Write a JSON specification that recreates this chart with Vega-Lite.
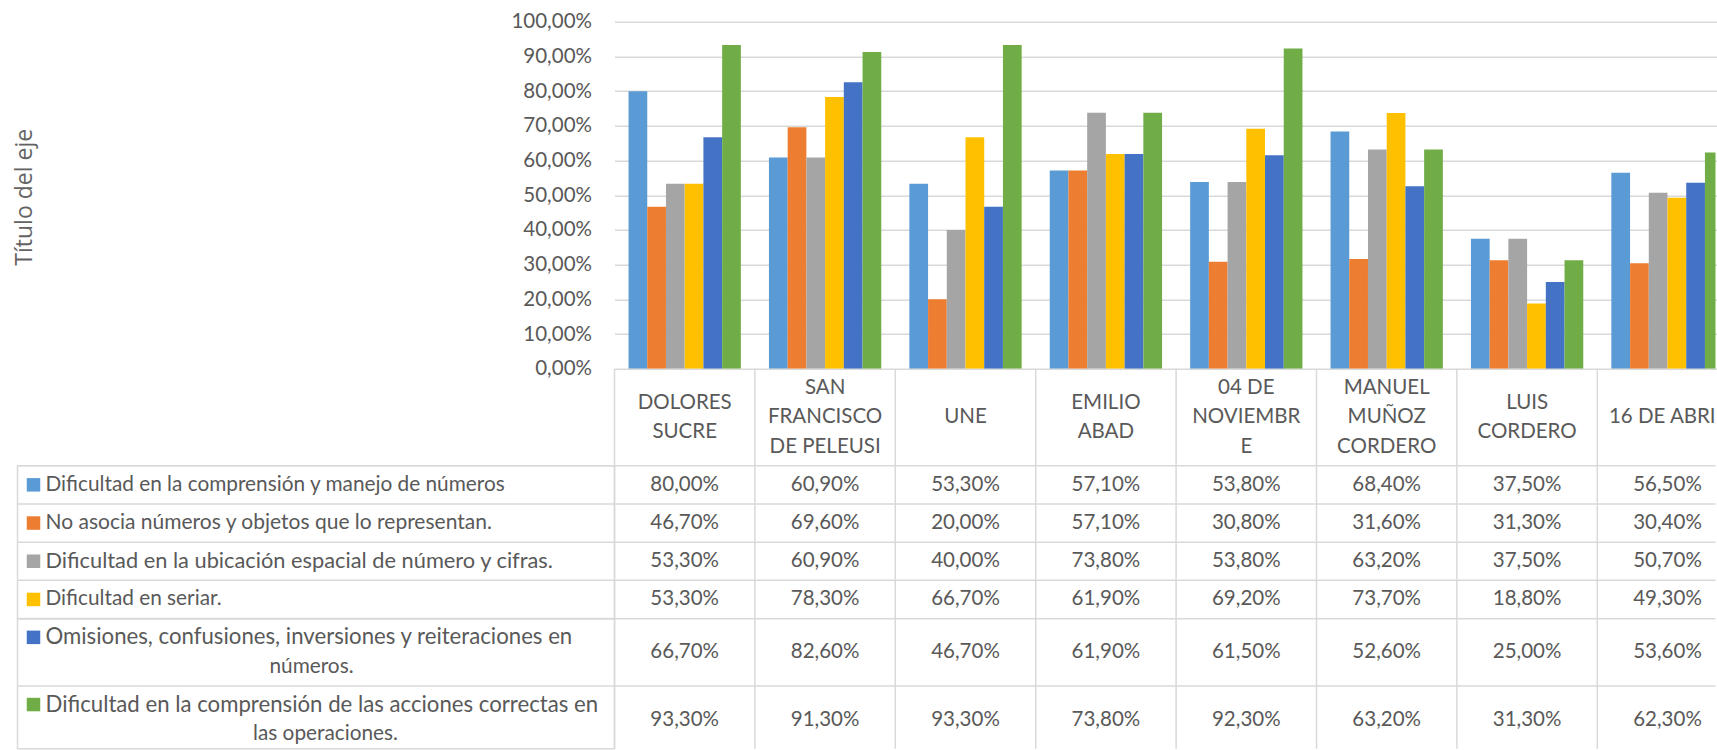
{
  "$schema": "https://vega.github.io/schema/vega-lite/v6.json",
  "padding": {"left": 13.5, "top": 11.75, "right": 0, "bottom": 0},
  "config": {
    "font": "Lato",
    "view": {"stroke": null},
    "locale": {"number": {"decimal": ",", "thousands": ".", "grouping": [3], "currency": ["", " €"]}},
    "text": {"fontSize": 20.5, "color": "#595959", "baseline": "middle"},
    "rule": {"color": "#d9d9d9", "strokeWidth": 1.5}
  },
  "datasets": {
    "cats": [
      {"c": "DOLORES SUCRE", "h": ["DOLORES", "SUCRE"]},
      {"c": "SAN FRANCISCO DE PELEUSI", "h": ["SAN", "FRANCISCO", "DE PELEUSI"]},
      {"c": "UNE", "h": ["UNE"]},
      {"c": "EMILIO ABAD", "h": ["EMILIO", "ABAD"]},
      {"c": "04 DE NOVIEMBRE", "h": ["04 DE", "NOVIEMBR", "E"]},
      {"c": "MANUEL MUÑOZ CORDERO", "h": ["MANUEL", "MUÑOZ", "CORDERO"]},
      {"c": "LUIS CORDERO", "h": ["LUIS", "CORDERO"]},
      {"c": "16 DE ABRIL", "h": ["16 DE ABRIL"]}
    ],
    "ser": [
      {"s": "S1", "l1": "Dificultad en la comprensión y manejo de números", "l2": ""},
      {"s": "S2", "l1": "No asocia números y objetos que lo representan.", "l2": ""},
      {"s": "S3", "l1": "Dificultad en la ubicación espacial de número y cifras.", "l2": ""},
      {"s": "S4", "l1": "Dificultad en seriar.", "l2": ""},
      {"s": "S5", "l1": "Omisiones, confusiones, inversiones y reiteraciones en", "l2": "números."},
      {"s": "S6", "l1": "Dificultad en la  comprensión de las acciones correctas en", "l2": "las operaciones."}
    ],
    "vals": [
      {"c": "DOLORES SUCRE", "s": "S1", "v": 0.8},
      {"c": "SAN FRANCISCO DE PELEUSI", "s": "S1", "v": 0.609},
      {"c": "UNE", "s": "S1", "v": 0.533},
      {"c": "EMILIO ABAD", "s": "S1", "v": 0.571},
      {"c": "04 DE NOVIEMBRE", "s": "S1", "v": 0.538},
      {"c": "MANUEL MUÑOZ CORDERO", "s": "S1", "v": 0.684},
      {"c": "LUIS CORDERO", "s": "S1", "v": 0.375},
      {"c": "16 DE ABRIL", "s": "S1", "v": 0.565},
      {"c": "DOLORES SUCRE", "s": "S2", "v": 0.467},
      {"c": "SAN FRANCISCO DE PELEUSI", "s": "S2", "v": 0.696},
      {"c": "UNE", "s": "S2", "v": 0.2},
      {"c": "EMILIO ABAD", "s": "S2", "v": 0.571},
      {"c": "04 DE NOVIEMBRE", "s": "S2", "v": 0.308},
      {"c": "MANUEL MUÑOZ CORDERO", "s": "S2", "v": 0.316},
      {"c": "LUIS CORDERO", "s": "S2", "v": 0.313},
      {"c": "16 DE ABRIL", "s": "S2", "v": 0.304},
      {"c": "DOLORES SUCRE", "s": "S3", "v": 0.533},
      {"c": "SAN FRANCISCO DE PELEUSI", "s": "S3", "v": 0.609},
      {"c": "UNE", "s": "S3", "v": 0.4},
      {"c": "EMILIO ABAD", "s": "S3", "v": 0.738},
      {"c": "04 DE NOVIEMBRE", "s": "S3", "v": 0.538},
      {"c": "MANUEL MUÑOZ CORDERO", "s": "S3", "v": 0.632},
      {"c": "LUIS CORDERO", "s": "S3", "v": 0.375},
      {"c": "16 DE ABRIL", "s": "S3", "v": 0.507},
      {"c": "DOLORES SUCRE", "s": "S4", "v": 0.533},
      {"c": "SAN FRANCISCO DE PELEUSI", "s": "S4", "v": 0.783},
      {"c": "UNE", "s": "S4", "v": 0.667},
      {"c": "EMILIO ABAD", "s": "S4", "v": 0.619},
      {"c": "04 DE NOVIEMBRE", "s": "S4", "v": 0.692},
      {"c": "MANUEL MUÑOZ CORDERO", "s": "S4", "v": 0.737},
      {"c": "LUIS CORDERO", "s": "S4", "v": 0.188},
      {"c": "16 DE ABRIL", "s": "S4", "v": 0.493},
      {"c": "DOLORES SUCRE", "s": "S5", "v": 0.667},
      {"c": "SAN FRANCISCO DE PELEUSI", "s": "S5", "v": 0.826},
      {"c": "UNE", "s": "S5", "v": 0.467},
      {"c": "EMILIO ABAD", "s": "S5", "v": 0.619},
      {"c": "04 DE NOVIEMBRE", "s": "S5", "v": 0.615},
      {"c": "MANUEL MUÑOZ CORDERO", "s": "S5", "v": 0.526},
      {"c": "LUIS CORDERO", "s": "S5", "v": 0.25},
      {"c": "16 DE ABRIL", "s": "S5", "v": 0.536},
      {"c": "DOLORES SUCRE", "s": "S6", "v": 0.933},
      {"c": "SAN FRANCISCO DE PELEUSI", "s": "S6", "v": 0.913},
      {"c": "UNE", "s": "S6", "v": 0.933},
      {"c": "EMILIO ABAD", "s": "S6", "v": 0.738},
      {"c": "04 DE NOVIEMBRE", "s": "S6", "v": 0.923},
      {"c": "MANUEL MUÑOZ CORDERO", "s": "S6", "v": 0.632},
      {"c": "LUIS CORDERO", "s": "S6", "v": 0.313},
      {"c": "16 DE ABRIL", "s": "S6", "v": 0.623}
    ]
  },
  "columns": 2,
  "spacing": 0,
  "bounds": "flush",
  "concat": [
    {
      "width": 597, "height": 347,
      "data": {"values": [{}]},
      "mark": {"type": "text", "text": ""}
    },
    {
      "width": 1101, "height": 347,
      "data": {"name": "vals"},
      "mark": {"type": "bar", "clip": true},
      "encoding": {
        "x": {"field": "c", "type": "nominal", "sort": null, "axis": null,
              "scale": {"domain": ["DOLORES SUCRE", "SAN FRANCISCO DE PELEUSI", "UNE", "EMILIO ABAD", "04 DE NOVIEMBRE", "MANUEL MUÑOZ CORDERO", "LUIS CORDERO", "16 DE ABRIL"], "range": [0, 1123.2], "paddingInner": 0.2, "paddingOuter": 0.1}},
        "xOffset": {"field": "s", "type": "nominal", "scale": {"domain": ["S1", "S2", "S3", "S4", "S5", "S6"], "paddingInner": 0, "paddingOuter": 0}},
        "y": {"field": "v", "type": "quantitative", "scale": {"domain": [0, 1], "nice": false},
              "axis": {"values": [0, 0.1, 0.2, 0.3, 0.4, 0.5, 0.6, 0.7, 0.8, 0.9, 1], "format": ".2%",
                       "labelFontSize": 20.5, "labelColor": "#595959", "labelPadding": 23, "ticks": false, "domain": false,
                       "grid": true, "gridColor": "#d9d9d9", "gridWidth": 1.5, "labelOverlap": false,
                       "title": "Título del eje", "titleFont": "Open Sans", "titleFontSize": 23, "titleFontWeight": "normal", "titleColor": "#636363",
                       "titleLimit": 2000, "titleX": -590, "titleY": 175, "titleAngle": -90, "titleAlign": "center", "titleBaseline": "middle"}},
        "color": {"field": "s", "type": "nominal", "legend": null,
                  "scale": {"domain": ["S1", "S2", "S3", "S4", "S5", "S6"], "range": ["#5B9BD5", "#ED7D31", "#A5A5A5", "#FFC000", "#4472C4", "#70AD47"]}}
      }
    },
    {
      "width": 597, "height": 97,
      "data": {"values": [{}]},
      "mark": {"type": "text", "text": ""}
    },
    {
      "width": 1101, "height": 97,
      "data": {"name": "cats"},
      "encoding": {
        "x": {"field": "c", "type": "nominal", "sort": null, "axis": null,
              "scale": {"domain": ["DOLORES SUCRE", "SAN FRANCISCO DE PELEUSI", "UNE", "EMILIO ABAD", "04 DE NOVIEMBRE", "MANUEL MUÑOZ CORDERO", "LUIS CORDERO", "16 DE ABRIL"], "range": [0, 1123.2], "paddingInner": 0.2, "paddingOuter": 0.1}}
      },
      "layer": [
        {"mark": {"type": "rule"}, "encoding": {"x": {"field": "c", "type": "nominal", "bandPosition": -0.125, "axis": null}}},
        {"transform": [{"filter": "length(datum.h) == 1"}],
         "mark": {"type": "text", "clip": true, "lineHeight": 29.5}, "encoding": {"text": {"field": "h"}}},
        {"transform": [{"filter": "length(datum.h) == 2"}],
         "mark": {"type": "text", "clip": true, "lineHeight": 29.5, "dy": -14.75}, "encoding": {"text": {"field": "h"}}},
        {"transform": [{"filter": "length(datum.h) == 3"}],
         "mark": {"type": "text", "clip": true, "lineHeight": 29.5, "dy": -29.5}, "encoding": {"text": {"field": "h"}}}
      ]
    },
    {
      "width": 597, "height": 152.8,
      "view": {"stroke": "#d9d9d9", "strokeWidth": 1.5},
      "data": {"name": "ser"},
      "transform": [{"filter": {"field": "s", "oneOf": ["S1", "S2", "S3", "S4"]}}],
      "encoding": {
        "y": {"field": "s", "type": "nominal", "axis": null, "scale": {"domain": ["S1", "S2", "S3", "S4"], "paddingInner": 0, "paddingOuter": 0}}
      },
      "layer": [
        {"mark": {"type": "rule"}, "encoding": {"y": {"field": "s", "type": "nominal", "bandPosition": 0}}},
        {"mark": {"type": "square", "size": 182, "filled": true, "opacity": 1, "x": 16},
         "encoding": {"color": {"field": "s", "type": "nominal", "legend": null}}},
        {"transform": [{"filter": {"field": "s", "oneOf": ["S1", "S4"]}}],
         "mark": {"type": "text", "align": "left", "x": 28, "fontSize": 20.8}, "encoding": {"text": {"field": "l1"}}},
        {"transform": [{"filter": {"field": "s", "equal": "S2"}}],
         "mark": {"type": "text", "align": "left", "x": 28, "fontSize": 21}, "encoding": {"text": {"field": "l1"}}},
        {"transform": [{"filter": {"field": "s", "equal": "S3"}}],
         "mark": {"type": "text", "align": "left", "x": 28, "fontSize": 21.8}, "encoding": {"text": {"field": "l1"}}}
      ]
    },
    {
      "width": 1101, "height": 152.8,
      "layer": [
        {"data": {"name": "cats"}, "mark": {"type": "rule"},
         "encoding": {"x": {"field": "c", "type": "nominal", "bandPosition": -0.125, "axis": null,
              "scale": {"domain": ["DOLORES SUCRE", "SAN FRANCISCO DE PELEUSI", "UNE", "EMILIO ABAD", "04 DE NOVIEMBRE", "MANUEL MUÑOZ CORDERO", "LUIS CORDERO", "16 DE ABRIL"], "range": [0, 1123.2], "paddingInner": 0.2, "paddingOuter": 0.1}}}},
        {"data": {"name": "ser"}, "transform": [{"filter": {"field": "s", "oneOf": ["S1", "S2", "S3", "S4"]}}],
         "mark": {"type": "rule"},
         "encoding": {"y": {"field": "s", "type": "nominal", "bandPosition": 0, "axis": null,
              "scale": {"domain": ["S1", "S2", "S3", "S4"], "paddingInner": 0, "paddingOuter": 0}}}},
        {"data": {"name": "vals"}, "transform": [{"filter": {"field": "s", "oneOf": ["S1", "S2", "S3", "S4"]}}],
         "mark": {"type": "text", "clip": true},
         "encoding": {
           "x": {"field": "c", "type": "nominal", "axis": null},
           "y": {"field": "s", "type": "nominal", "axis": null},
           "text": {"field": "v", "type": "quantitative", "format": ".2%"}
         }}
      ]
    },
    {
      "width": 597, "height": 130,
      "view": {"stroke": "#d9d9d9", "strokeWidth": 1.5},
      "data": {"name": "ser"},
      "transform": [{"filter": {"field": "s", "oneOf": ["S5", "S6"]}}],
      "encoding": {
        "y": {"field": "s", "type": "nominal", "axis": null, "scale": {"domain": ["S5", "S6"], "range": [0, 134.4], "paddingInner": 0, "paddingOuter": 0}}
      },
      "layer": [
        {"mark": {"type": "rule"}, "encoding": {"y": {"field": "s", "type": "nominal", "bandPosition": 0}}},
        {"mark": {"type": "square", "size": 182, "filled": true, "opacity": 1, "x": 16, "yOffset": -15},
         "encoding": {"color": {"field": "s", "type": "nominal", "legend": null}}},
        {"mark": {"type": "text", "align": "left", "x": 28, "dy": -15, "fontSize": 22.2}, "encoding": {"text": {"field": "l1"}}},
        {"transform": [{"filter": {"field": "s", "equal": "S5"}}],
         "mark": {"type": "text", "align": "center", "x": 294, "dy": 14.5, "fontSize": 20.8}, "encoding": {"text": {"field": "l2"}}},
        {"transform": [{"filter": {"field": "s", "equal": "S6"}}],
         "mark": {"type": "text", "align": "center", "x": 308, "dy": 14.5, "fontSize": 20.8}, "encoding": {"text": {"field": "l2"}}}
      ]
    },
    {
      "width": 1101, "height": 130,
      "layer": [
        {"data": {"name": "cats"}, "mark": {"type": "rule"},
         "encoding": {"x": {"field": "c", "type": "nominal", "bandPosition": -0.125, "axis": null,
              "scale": {"domain": ["DOLORES SUCRE", "SAN FRANCISCO DE PELEUSI", "UNE", "EMILIO ABAD", "04 DE NOVIEMBRE", "MANUEL MUÑOZ CORDERO", "LUIS CORDERO", "16 DE ABRIL"], "range": [0, 1123.2], "paddingInner": 0.2, "paddingOuter": 0.1}}}},
        {"data": {"name": "ser"}, "transform": [{"filter": {"field": "s", "oneOf": ["S5", "S6"]}}],
         "mark": {"type": "rule"},
         "encoding": {"y": {"field": "s", "type": "nominal", "bandPosition": 0, "axis": null,
              "scale": {"domain": ["S5", "S6"], "range": [0, 134.4], "paddingInner": 0, "paddingOuter": 0}}}},
        {"data": {"name": "vals"}, "transform": [{"filter": {"field": "s", "oneOf": ["S5", "S6"]}}],
         "mark": {"type": "text", "clip": true},
         "encoding": {
           "x": {"field": "c", "type": "nominal", "axis": null},
           "y": {"field": "s", "type": "nominal", "axis": null},
           "text": {"field": "v", "type": "quantitative", "format": ".2%"}
         }}
      ]
    }
  ]
}
